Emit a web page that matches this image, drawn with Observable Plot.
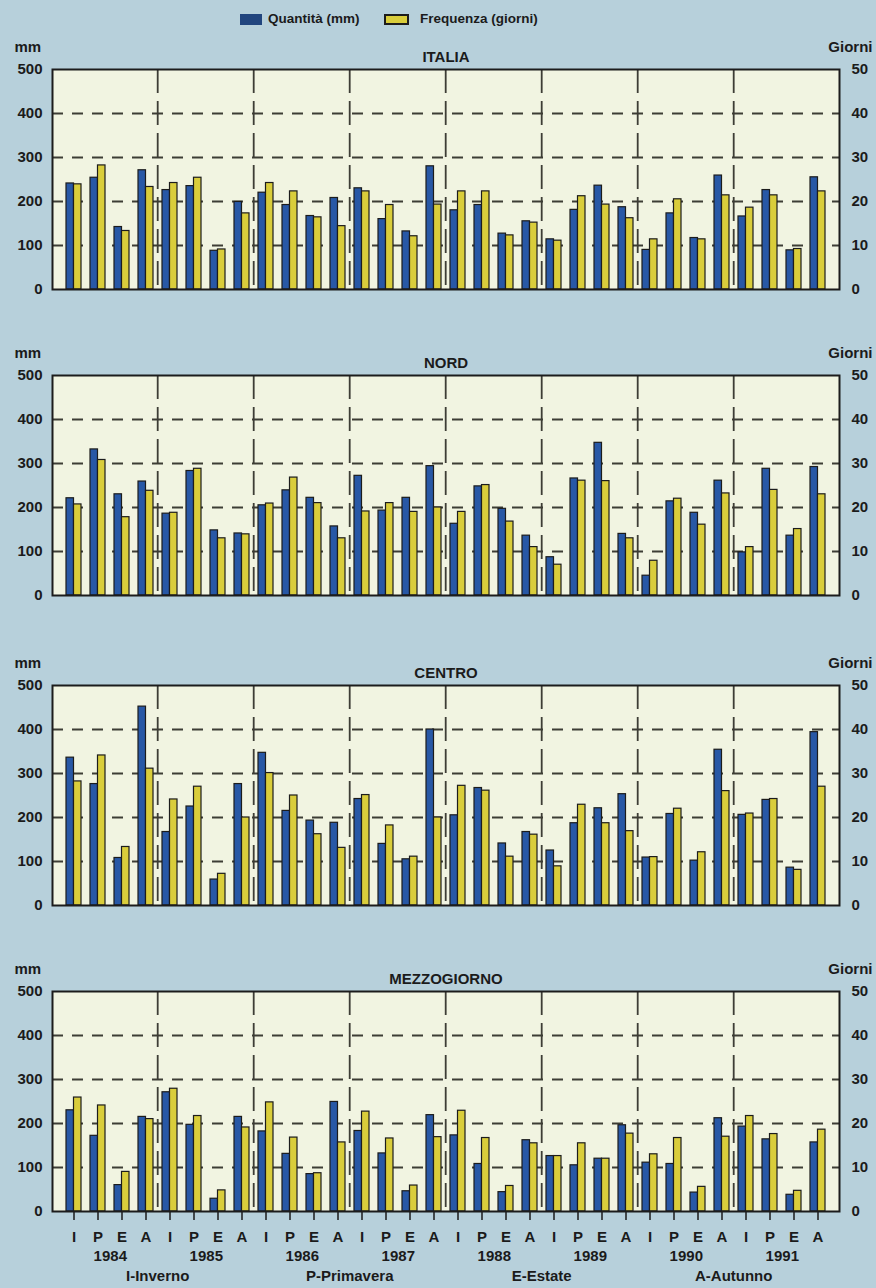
<!DOCTYPE html>
<html><head><meta charset="utf-8">
<script src="https://cdn.jsdelivr.net/npm/d3@7"></script>
<script src="https://cdn.jsdelivr.net/npm/@observablehq/plot@0.6"></script>
<style>
html,body{margin:0;padding:0;}
body{background:#b7d0db;width:876px;height:1288px;position:relative;overflow:hidden;font-family:"Liberation Sans",Arial,sans-serif;color:#1b1b1b;}
.panel{position:absolute;left:0;}
#legend{position:absolute;top:11px;left:0;width:876px;height:20px;font-weight:bold;font-size:13.5px;}
#legend .sw{position:absolute;top:3px;height:11px;box-sizing:border-box;}
#legend span{position:absolute;top:0;white-space:nowrap;}
</style></head><body>
<div id="legend"></div>
<script>
const years = [1984, 1985, 1986, 1987, 1988, 1989, 1990, 1991];
const seasons = ["I", "P", "E", "A"];
const seasonNames = ["I-Inverno", "P-Primavera", "E-Estate", "A-Autunno"];
const seriesNames = ["Quantità (mm)", "Frequenza (giorni)"];
const mmTicks = [0, 100, 200, 300, 400, 500];
const gridTicks = [100, 200, 300, 400];

const italiaMm = [241,254,142,271, 226,235,88,199, 220,192,167,208, 230,160,132,280, 180,192,127,155, 114,181,236,187, 90,173,117,259, 166,226,89,255];
const italiaGiorni = [23.9,28.2,13.3,23.3, 24.2,25.4,9.1,17.3, 24.2,22.3,16.4,14.4, 22.3,19.2,12.1,19.3, 22.3,22.3,12.3,15.2, 11.1,21.2,19.3,16.2, 11.4,20.5,11.4,21.4, 18.6,21.4,9.2,22.3];

const nordMm = [221,332,230,259, 186,283,148,141, 205,239,222,157, 272,193,222,294, 163,248,197,136, 87,266,347,140, 45,214,188,261, 98,288,136,292];
const nordGiorni = [20.7,30.8,17.8,23.8, 18.8,28.8,13.0,13.9, 20.9,26.8,21.0,13.0, 19.1,21.0,19.0,20.0, 19.0,25.1,16.8,11.0, 7.0,26.1,26.0,13.0, 7.9,22.0,16.1,23.2, 11.0,24.0,15.1,23.0];

const centroMm = [336,276,108,452, 167,225,59,276, 347,215,193,188, 242,140,105,400, 205,267,141,167, 125,187,221,253, 109,208,102,354, 206,240,86,394];
const centroGiorni = [28.2,34.1,13.3,31.1, 24.1,27.0,7.2,20.0, 30.1,25.0,16.2,13.1, 25.1,18.2,11.1,20.0, 27.2,26.1,11.1,16.1, 8.9,22.9,18.7,16.9, 11.0,22.0,12.1,26.0, 20.9,24.2,8.1,27.0];

const mezzoMm = [230,172,60,215, 271,197,29,215, 182,131,85,249, 183,132,46,219, 173,108,44,162, 126,105,120,196, 111,108,43,212, 193,164,38,157];
const mezzoGiorni = [25.9,24.1,9.0,21.0, 27.9,21.7,4.8,19.1, 24.8,16.8,8.7,15.7, 22.7,16.6,5.9,16.9, 22.9,16.7,5.8,15.5, 12.6,15.5,12.0,17.7, 13.0,16.7,5.6,17.0, 21.7,17.6,4.7,18.6];

const panels = [
  {title: "ITALIA", mm: italiaMm, giorni: italiaGiorni, top: 35},
  {title: "NORD", mm: nordMm, giorni: nordGiorni, top: 341},
  {title: "CENTRO", mm: centroMm, giorni: centroGiorni, top: 651},
  {title: "MEZZOGIORNO", mm: mezzoMm, giorni: mezzoGiorni, top: 957}
];

const BLUE = "#2858a6", YELLOW = "#d9cd3b", INK = "#1c1c1c", PLOTBG = "#f1f4e1";

// legend
const legend = document.getElementById("legend");
legend.innerHTML =
  `<div class="sw" style="left:240px;width:22px;background:#21457e"></div>` +
  `<span style="left:268px">${seriesNames[0]}</span>` +
  `<div class="sw" style="left:384px;width:25px;background:${YELLOW};border:2px solid ${INK}"></div>` +
  `<span style="left:420px">${seriesNames[1]}</span>`;

const keys = years.flatMap(y => seasons.map(s => `${y}-${s}`));

function makePanel(p, last) {
  const W = 876, ML = 52, MR = 37, MT = 34, FH = 220;
  const MB = last ? 77 : 53;
  const pad = 0.39;
  const step = (W - ML - MR) / keys.length;
  const bw = step * (1 - pad);
  const data = keys.map((k, i) => ({key: k, mm: p.mm[i], giorni: p.giorni[i]}));
  const marks = [
    Plot.frame({fill: PLOTBG}),
    Plot.ruleY(gridTicks, {stroke: "#3d3d35", strokeWidth: 1.8, strokeDasharray: "11,9"}),
    Plot.ruleX(years.slice(1), {x: y => `${y}-I`, dx: -step / 2, stroke: "#3d3d35", strokeWidth: 1.8, strokeDasharray: "24,8"}),
    Plot.barY(data, {x: "key", y: "mm", fill: BLUE, stroke: INK, strokeWidth: 1.2, insetRight: bw / 2}),
    Plot.barY(data, {x: "key", y: d => d.giorni * 10, fill: YELLOW, stroke: INK, strokeWidth: 1.2, insetLeft: bw / 2}),
    Plot.frame({stroke: INK, strokeWidth: 2}),
    Plot.axisY({anchor: "left", ticks: mmTicks, tickSize: 0, tickPadding: 10, label: null}),
    Plot.axisY({anchor: "right", ticks: mmTicks, tickSize: 0, tickPadding: 12, tickFormat: d => d / 10, label: null}),
    Plot.text([p.title], {text: d => d, frameAnchor: "top", lineAnchor: "middle", dy: -12, fontSize: 15, letterSpacing: 1}),
    Plot.text(["mm"], {text: d => d, frameAnchor: "top-left", lineAnchor: "middle", dx: -38, dy: -22, textAnchor: "start"}),
    Plot.text(["Giorni"], {text: d => d, frameAnchor: "top-right", lineAnchor: "middle", dx: 33, dy: -22, textAnchor: "end"})
  ];
  if (last) {
    marks.push(
      Plot.axisX({anchor: "bottom", tickSize: 9, tickPadding: 11, tickFormat: k => k.split("-")[1], label: null, strokeWidth: 1.5}),
      Plot.text(years, {x: y => `${y}-P`, dx: step / 2, frameAnchor: "bottom", lineAnchor: "middle", dy: 45, text: d => String(d)}),
      Plot.text(seasonNames, {x: (d, i) => `${years[1 + 2 * i]}-I`, dx: -step / 2, frameAnchor: "bottom", lineAnchor: "middle", dy: 65, text: d => d})
    );
  }
  const chart = Plot.plot({
    width: W,
    height: MT + FH + MB,
    marginLeft: ML, marginRight: MR, marginTop: MT, marginBottom: MB,
    x: {type: "band", domain: keys, paddingInner: pad, paddingOuter: pad / 2, axis: null},
    y: {domain: [0, 500], axis: null},
    style: {background: "transparent", fontFamily: "'Liberation Sans', Arial, sans-serif", fontSize: "15px", fontWeight: "bold", color: "#1b1b1b", overflow: "visible"},
    marks
  });
  const wrap = document.createElement("div");
  wrap.className = "panel";
  wrap.style.top = p.top + "px";
  wrap.appendChild(chart);
  document.body.appendChild(wrap);
}

panels.forEach((p, i) => makePanel(p, i === panels.length - 1));
</script>
</body></html>
